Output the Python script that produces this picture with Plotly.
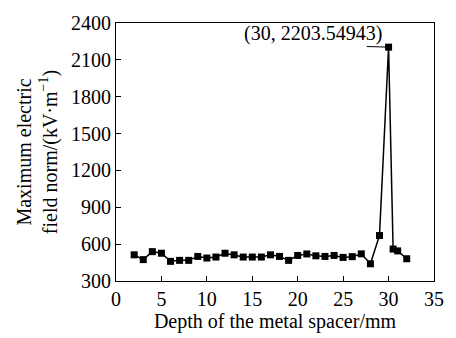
import plotly.graph_objects as go

depth = [2, 3, 4, 5, 6, 7, 8, 9, 10, 11, 12, 13, 14, 15, 16, 17, 18, 19, 20,
         21, 22, 23, 24, 25, 26, 27, 28, 29, 30, 30.5, 31, 32]
efield = [513, 474, 539, 526, 460, 468, 468, 500, 487, 495, 526, 513, 495, 495,
          495, 513, 500, 468, 508, 520, 505, 500, 508, 492, 498, 521, 440, 670,
          2203.54943, 560, 545, 481]
x_ticks = [0, 5, 10, 15, 20, 25, 30, 35]
y_ticks = [300, 600, 900, 1200, 1500, 1800, 2100, 2400]

peak_i = max(range(len(efield)), key=lambda i: efield[i])
peak_x, peak_y = depth[peak_i], efield[peak_i]
peak_label = f"({peak_x:g}, {peak_y:.5f})"

FONT = "Liberation Serif, Times New Roman, serif"

fig = go.Figure()
fig.add_trace(go.Scatter(
    x=depth, y=efield, mode="lines+markers",
    line=dict(color="black", width=1.5),
    marker=dict(symbol="square", size=7, color="black"),
    showlegend=False,
))

# leader line from label to peak point
fig.add_shape(type="line", xref="x", yref="y",
              x0=peak_x - 2.4, y0=peak_y + 5, x1=peak_x, y1=peak_y,
              line=dict(color="black", width=1))
fig.add_annotation(x=peak_x - 0.5, y=peak_y, xref="x", yref="y",
                   text=peak_label, showarrow=False,
                   xanchor="right", yanchor="bottom", yshift=0,
                   font=dict(family=FONT, size=20, color="black"))

axis_common = dict(
    showline=True, linecolor="black", linewidth=1, mirror=True,
    ticks="inside", ticklen=5, tickwidth=1, tickcolor="black",
    showgrid=False, zeroline=False,
    tickfont=dict(family=FONT, size=20, color="black"),
)

fig.update_xaxes(range=[0, 35], tickvals=x_ticks,
                 title=dict(text="Depth of the metal spacer/mm",
                            font=dict(family=FONT, size=20, color="black"),
                            standoff=2),
                 **axis_common)
fig.update_yaxes(range=[300, 2400], tickvals=y_ticks,
                 title=dict(text="Maximum electric<br>field norm/(kV·m<sup>−1</sup>)",
                            font=dict(family=FONT, size=20, color="black"),
                            standoff=8),
                 **axis_common)

fig.update_layout(
    width=456, height=338,
    margin=dict(l=116, r=12, t=16, b=56),
    paper_bgcolor="white", plot_bgcolor="white",
)

fig.write_html("out.html")
